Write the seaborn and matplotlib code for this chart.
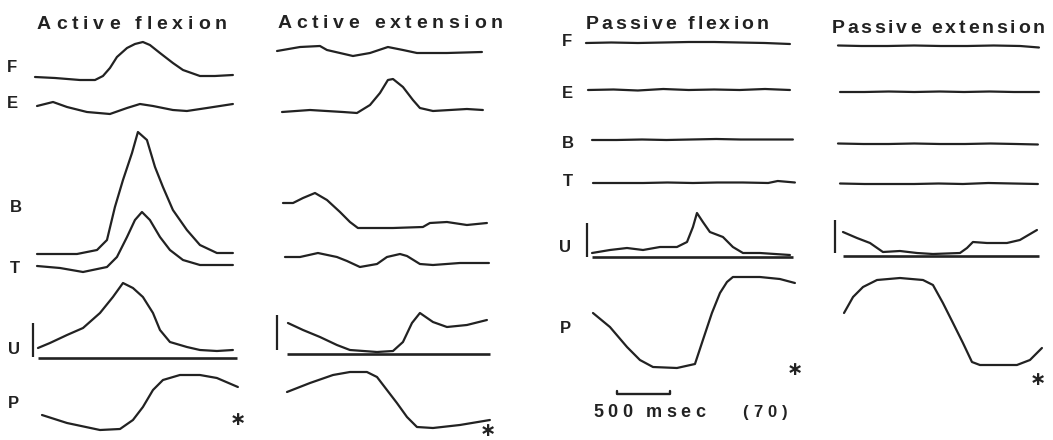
import numpy as np
import matplotlib
matplotlib.use("Agg")
import matplotlib.pyplot as plt
from matplotlib.font_manager import FontProperties
import seaborn as sns

# ---------------- recorded sweeps: time (ms) and amplitude (display units, up = +) ----------------
# Active flexion
af_F_t = [0, 189, 424, 566, 641, 707, 773, 868, 943, 1018, 1084, 1179, 1301, 1396, 1556, 1697, 1867]
af_F_v = [0, -1, -3, -3, 1, 9, 20, 29, 33, 35, 32, 24, 14, 7, 1, 1, 2]
af_E_t = [19, 170, 302, 490, 707, 868, 990, 1113, 1301, 1433, 1622, 1867]
af_E_v = [0, 4, -1, -6, -8, -2, 2, 0, -4, -5, -2, 2]
af_B_t = [19, 396, 585, 679, 754, 830, 915, 971, 1056, 1132, 1207, 1301, 1433, 1556, 1716, 1867]
af_B_v = [0, 0, 4, 14, 47, 74, 101, 122, 114, 87, 67, 44, 24, 9, 1, 1]
af_T_t = [19, 236, 453, 679, 773, 868, 943, 1009, 1084, 1179, 1273, 1396, 1556, 1867]
af_T_v = [1, -1, -5, 0, 10, 30, 47, 55, 47, 30, 17, 7, 2, 2]
af_U_t = [28, 141, 302, 453, 613, 735, 830, 924, 1018, 1113, 1179, 1273, 1433, 1556, 1716, 1867]
af_U_v = [10, 15, 23, 30, 45, 61, 75, 70, 61, 45, 28, 16, 11, 8, 7, 8]
af_P_t = [66, 302, 613, 802, 924, 1018, 1113, 1207, 1367, 1556, 1716, 1914]
af_P_v = [-15, -23, -30, -29, -20, -7, 10, 20, 25, 25, 22, 13]

# Active extension
ae_F_t = [-28, 189, 377, 443, 688, 849, 1018, 1160, 1292, 1575, 1905]
ae_F_v = [1, 5, 6, 2, -4, -1, 5, 2, -1, -1, 0]
ae_E_t = [19, 283, 594, 726, 849, 943, 1018, 1066, 1160, 1254, 1320, 1443, 1763, 1914]
ae_E_v = [-1, 1, -1, -2, 6, 18, 31, 32, 24, 11, 3, 0, 2, 1]
ae_B_t = [28, 123, 217, 330, 443, 566, 660, 735, 915, 1066, 1348, 1414, 1575, 1763, 1952]
ae_B_v = [24, 24, 29, 34, 27, 15, 5, -1, -1, -1, 0, 4, 5, 2, 4]
ae_T_t = [47, 189, 358, 537, 632, 754, 915, 1009, 1132, 1198, 1320, 1443, 1697, 1971]
ae_T_v = [6, 6, 10, 6, 2, -4, -1, 6, 9, 7, -1, -2, 0, 0]
ae_U_t = [75, 217, 377, 537, 660, 915, 1066, 1160, 1245, 1320, 1443, 1575, 1763, 1952]
ae_U_v = [31, 24, 17, 9, 4, 2, 3, 12, 31, 41, 32, 27, 29, 34]
ae_P_t = [66, 283, 500, 660, 820, 915, 1009, 1103, 1198, 1292, 1443, 1697, 1980]
ae_P_v = [8, 17, 25, 28, 28, 23, 10, -3, -17, -27, -28, -25, -20]

# Passive flexion
pf_F_t = [-19, 220, 470, 710, 950, 1190, 1430, 1670, 1905]
pf_F_v = [0, 0.5, 0, 0.5, 1, 1, 0.5, 0, -1]
pf_E_t = [0, 240, 470, 710, 950, 1190, 1430, 1670, 1905]
pf_E_v = [0, 0.5, -0.5, 1, 0, 0.5, 0, 1, 0]
pf_B_t = [38, 270, 510, 740, 970, 1210, 1440, 1680, 1933]
pf_B_v = [0, 0, 0.5, 0, 0.5, 1, 0.5, 0.5, 0.5]
pf_T_t = [47, 280, 520, 750, 990, 1220, 1460, 1700, 1790, 1952]
pf_T_v = [0, 0, 0, 0.5, 0, 0.5, 0.5, 0, 2, 0.5]
pf_U_t = [38, 207, 368, 519, 679, 839, 934, 990, 1028, 1084, 1150, 1273, 1367, 1462, 1622, 1905]
pf_U_v = [4, 7, 9, 7, 10, 10, 15, 30, 44, 35, 25, 20, 10, 4, 4, 2]
pf_P_t = [47, 207, 368, 490, 613, 839, 1009, 1084, 1169, 1245, 1311, 1367, 1622, 1810, 1952]
pf_P_v = [7, -7, -27, -40, -47, -48, -44, -20, 7, 27, 38, 43, 43, 41, 37]

# Passive extension
pe_F_t = [-19, 200, 450, 700, 950, 1200, 1450, 1700, 1877]
pe_F_v = [0.5, 0, 0, 0.5, 0, 0, 0.5, 0, -1.5]
pe_E_t = [0, 230, 460, 700, 940, 1170, 1410, 1640, 1877]
pe_E_v = [0, 0, 0.5, 0, 0.5, 0, 0.5, 0, 0]
pe_B_t = [-19, 220, 460, 700, 940, 1180, 1420, 1660, 1867]
pe_B_v = [0.5, 0, 0, 0.5, 0, 0, 0.5, 0, -0.5]
pe_T_t = [0, 230, 460, 700, 930, 1160, 1400, 1630, 1867]
pe_T_v = [0.5, 0, 0, 0, 0.5, 0, 1, 0.5, 0]
pe_U_t = [28, 160, 283, 405, 566, 726, 877, 1132, 1198, 1254, 1386, 1575, 1697, 1858]
pe_U_v = [24, 18, 13, 4, 5, 3, 2, 3, 8, 14, 13, 13, 16, 26]
pe_P_t = [38, 123, 217, 349, 566, 783, 877, 971, 1066, 1160, 1245, 1320, 1669, 1792, 1905]
pe_P_v = [7, 23, 33, 40, 42, 40, 35, 17, -3, -23, -42, -45, -45, -40, -28]

channel_names = ["F", "E", "B", "T", "U", "P"]
panel_titles = ["Active flexion", "Active extension", "Passive flexion", "Passive extension"]
scale_ms = 500
scale_label = "500 msec"
record_id = "(70)"
marker_sign = "\u2217"

# ---------------- layout ----------------
W, H, DPI = 1053, 440, 100
MS_PER_PX = scale_ms / 53.0
INK = "#222222"
FAMILY = ["Liberation Sans", "DejaVu Sans"]

sns.set_style("white")
plt.rcParams["font.family"] = FAMILY

fig = plt.figure(figsize=(W / DPI, H / DPI), dpi=DPI)
fig.patch.set_facecolor("white")
renderer = fig.canvas.get_renderer()


def fx(x):
    return x / W


def fy(y):
    return 1 - y / H


def spaced_text(xc, y_base, s, size, width):
    """Letter-spaced text stretched to a given pixel width."""
    fp = FontProperties(family=FAMILY, size=size, weight="bold")

    def tw(txt):
        return renderer.get_text_width_height_descent(txt, fp, ismath=False)[0]

    ref = tw("l")
    offs = [0.0] + [tw(s[:i] + "l") - ref for i in range(1, len(s))]
    track = (width - tw(s)) / (len(s) - 1)
    left = xc - width / 2
    for i, ch in enumerate(s):
        if ch == " ":
            continue
        fig.text(fx(left + offs[i] + i * track), fy(y_base), ch, fontproperties=fp,
                 color=INK, ha="left", va="baseline")


panels = [
    dict(x0=35, title_xy=(132, 29), title_w=190,
         traces=[(af_F_t, af_F_v, 77), (af_E_t, af_E_v, 106), (af_B_t, af_B_v, 254),
                 (af_T_t, af_T_v, 267), (af_U_t, af_U_v, 358), (af_P_t, af_P_v, 400)],
         ubar=(-19, 323, 357), uline=(28, 1905, 358), star=(238, 419),
         labels=[(12, 67), (12, 104), (16, 208), (15, 268), (14, 350), (13, 403)]),
    dict(x0=280, title_xy=(390, 28), title_w=225,
         traces=[(ae_F_t, ae_F_v, 52), (ae_E_t, ae_E_v, 111), (ae_B_t, ae_B_v, 227),
                 (ae_T_t, ae_T_v, 263), (ae_U_t, ae_U_v, 354), (ae_P_t, ae_P_v, 400)],
         ubar=(-28, 315, 350), uline=(66, 1980, 354), star=(488, 430), labels=None),
    dict(x0=588, title_xy=(677, 29), title_w=183,
         traces=[(pf_F_t, pf_F_v, 43), (pf_E_t, pf_E_v, 90), (pf_B_t, pf_B_v, 140),
                 (pf_T_t, pf_T_v, 183), (pf_U_t, pf_U_v, 257), (pf_P_t, pf_P_v, 320)],
         ubar=(-9, 223, 257), uline=(38, 1933, 257), star=(795, 369),
         labels=[(567, 42), (567, 93), (568, 143), (568, 182), (565, 247), (565, 328)]),
    dict(x0=840, title_xy=(938, 33), title_w=213,
         traces=[(pe_F_t, pe_F_v, 46), (pe_E_t, pe_E_v, 92), (pe_B_t, pe_B_v, 144),
                 (pe_T_t, pe_T_v, 184), (pe_U_t, pe_U_v, 256), (pe_P_t, pe_P_v, 320)],
         ubar=(-47, 220, 253), uline=(28, 1877, 256), star=(1038, 379), labels=None),
]

for title, p in zip(panel_titles, panels):
    # one transparent axes per panel: x in ms from sweep start, y in display rows
    ax = fig.add_axes([0, 0, 1, 1])
    ax.patch.set_alpha(0)
    for (t, v, base) in p["traces"]:
        y = base - np.asarray(v, dtype=float)
        sns.lineplot(x=np.asarray(t, dtype=float), y=y, ax=ax, color=INK, lw=1.6,
                     estimator=None, sort=False, legend=False)
    # EMG zero line and amplitude calibration bar for the U channel
    t0, t1, yl = p["uline"]
    ax.hlines(yl, t0, t1, color=INK, lw=1.9)
    tb, yb0, yb1 = p["ubar"]
    ax.vlines(tb, yb0, yb1, color=INK, lw=1.6)
    ax.set_xlim(-p["x0"] * MS_PER_PX, (W - p["x0"]) * MS_PER_PX)
    ax.set_ylim(H, 0)
    ax.axis("off")

    spaced_text(p["title_xy"][0], p["title_xy"][1], title, 14, p["title_w"])
    if p["labels"]:
        for name, (lx, ly) in zip(channel_names, p["labels"]):
            fig.text(fx(lx), fy(ly), name, fontsize=12, fontweight="bold", color=INK,
                     ha="center", va="center")
    fig.text(fx(p["star"][0]), fy(p["star"][1]), marker_sign, family=["DejaVu Sans"],
             fontsize=14, fontweight="bold", color=INK, ha="center", va="center")

    if title == "Passive flexion":
        bar_t0 = 275
        ax.plot([bar_t0, bar_t0, bar_t0 + scale_ms, bar_t0 + scale_ms],
                [391, 394, 394, 391], color=INK, lw=1.7)

spaced_text(649, 417, scale_label, 13, 112)
spaced_text(765, 417, record_id, 12, 45)

fig.savefig("out.png", dpi=DPI, facecolor="white")
